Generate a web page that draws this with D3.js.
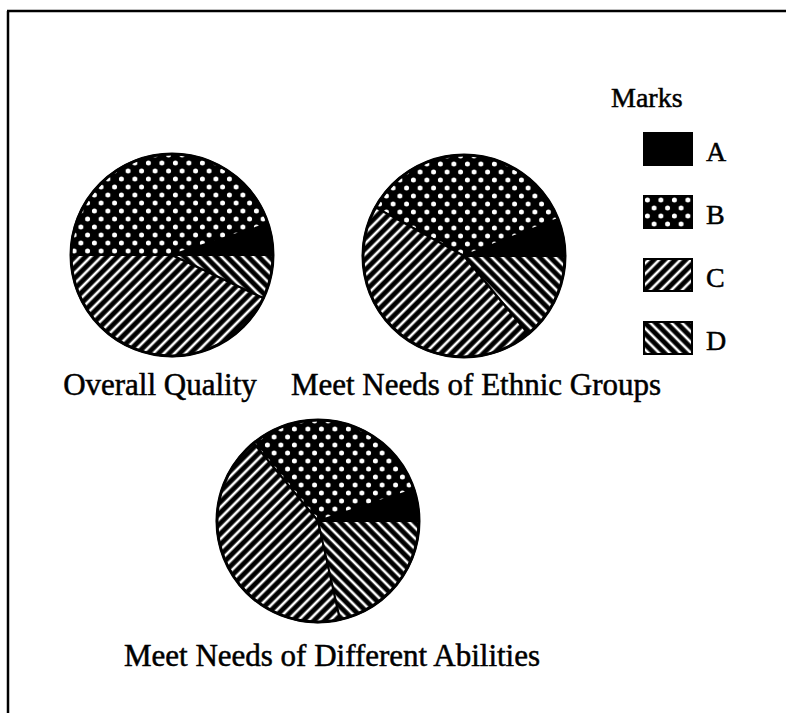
<!DOCTYPE html>
<html lang="en">
<head>
    <meta charset="UTF-8">
    <title>Marks pie charts</title>
    <style>
        body { margin: 0; background: #fff; }
        text {
            font-family: "Liberation Serif", "Times New Roman", serif;
            fill: #000;
            stroke: #000;
            stroke-width: 0.5px;
        }
        .label { font-size: 31px; }
        .legend { font-size: 28px; }
        .slice { stroke: #000; stroke-width: 2px; }
    </style>
    <script src="https://d3js.org/d3.v7.min.js"></script>
</head>
<body>
    <script>

        // data (percent of responses)
        const marks = ["A", "B", "C", "D"];
        const chartTitles = ["Overall Quality", "Meet Needs of Ethnic Groups", "Meet Needs of Different Abilities"];
        const overallQuality = [5, 45, 43, 7];
        const ethnicGroups = [6, 36, 44, 14];
        const differentAbilities = [5, 31, 42.5, 21.5];

        const width = 786, height = 713;
        const svg = d3.select("body").append("svg")
            .attr("width", width)
            .attr("height", height);

        // fill patterns: solid, dots, "/" hatch, "\" hatch
        const defs = svg.append("defs");

        const dots = defs.append("pattern")
            .attr("id", "pat-B")
            .attr("patternUnits", "userSpaceOnUse")
            .attr("width", 13.5).attr("height", 16);
        dots.append("rect").attr("width", 13.5).attr("height", 16).attr("fill", "#000");
        dots.append("circle").attr("cx", 3.4).attr("cy", 4).attr("r", 2.5).attr("fill", "#fff");
        dots.append("circle").attr("cx", 10.1).attr("cy", 12).attr("r", 2.5).attr("fill", "#fff");

        function hatch(id, angle) {
            const p = defs.append("pattern")
                .attr("id", id)
                .attr("patternUnits", "userSpaceOnUse")
                .attr("width", 7.5).attr("height", 8)
                .attr("patternTransform", `rotate(${angle})`);
            p.append("rect").attr("width", 7.5).attr("height", 8).attr("fill", "#000");
            p.append("rect").attr("x", 2.5).attr("width", 2.6).attr("height", 8).attr("fill", "#fff");
        }
        hatch("pat-C", 45);
        hatch("pat-D", -45);

        const fill = d3.scaleOrdinal()
            .domain(marks)
            .range(["#000", "url(#pat-B)", "url(#pat-C)", "url(#pat-D)"]);

        // frame (top and left edges only, as in the scan)
        svg.append("line")
            .attr("x1", 7).attr("y1", 11).attr("x2", width).attr("y2", 11)
            .attr("stroke", "#000").attr("stroke-width", 2.5);
        svg.append("line")
            .attr("x1", 8).attr("y1", 11).attr("x2", 8).attr("y2", height)
            .attr("stroke", "#000").attr("stroke-width", 2.5);

        // slices go counter-clockwise starting at 3 o'clock
        const pie = d3.pie()
            .sort(null)
            .startAngle(Math.PI / 2)
            .endAngle(Math.PI / 2 - 2 * Math.PI);

        const radius = 101;
        const arc = d3.arc().innerRadius(0).outerRadius(radius);

        const pies = [
            { values: overallQuality, cx: 172, cy: 255, lx: 160, ly: 395 },
            { values: ethnicGroups, cx: 464, cy: 256, lx: 476, ly: 395 },
            { values: differentAbilities, cx: 318, cy: 521, lx: 332, ly: 666 }
        ];

        pies.forEach((p, i) => {
            const g = svg.append("g")
                .attr("transform", `translate(${p.cx},${p.cy})`);

            g.selectAll("path")
                .data(pie(p.values))
                .enter().append("path")
                .attr("class", "slice")
                .attr("d", arc)
                .attr("fill", (d, j) => fill(marks[j]));

            g.append("circle")
                .attr("r", radius)
                .attr("fill", "none")
                .attr("stroke", "#000")
                .attr("stroke-width", 3);

            svg.append("text")
                .attr("class", "label")
                .attr("x", p.lx)
                .attr("y", p.ly)
                .attr("text-anchor", "middle")
                .text(chartTitles[i]);
        });

        // legend
        const legend = svg.append("g");
        legend.append("text")
            .attr("class", "legend")
            .attr("x", 611)
            .attr("y", 107)
            .text("Marks");

        const y = d3.scalePoint()
            .domain(marks)
            .range([133, 322]);

        const item = legend.selectAll("g.item")
            .data(marks)
            .enter().append("g")
            .attr("class", "item")
            .attr("transform", d => `translate(644,${y(d)})`);

        item.append("rect")
            .attr("width", 48)
            .attr("height", 32)
            .attr("fill", d => fill(d))
            .attr("stroke", "#000")
            .attr("stroke-width", 2);

        item.append("text")
            .attr("class", "legend")
            .attr("x", 62)
            .attr("y", 28)
            .text(d => d);
    </script>
</body>
</html>
